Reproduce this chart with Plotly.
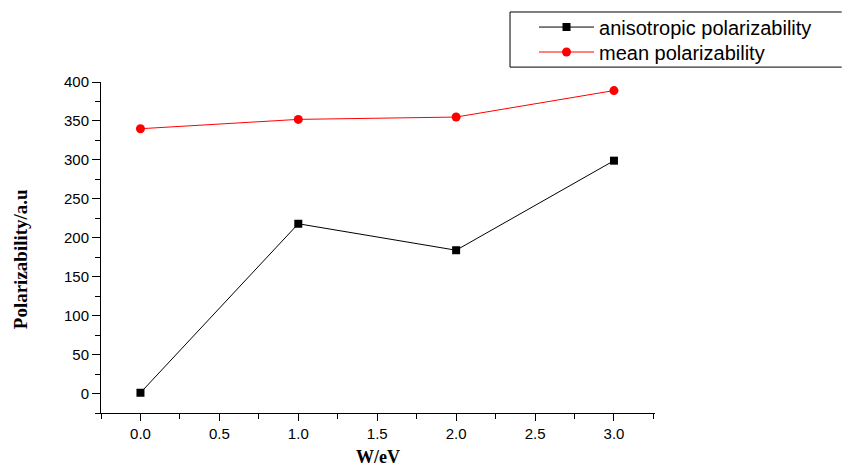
import plotly.graph_objects as go

w_ev = [0.0, 1.0, 2.0, 3.0]
aniso = [1, 218, 184, 299]
mean_pol = [340, 352, 355, 389]

fig = go.Figure()
fig.add_trace(go.Scatter(x=w_ev, y=aniso, mode="lines+markers", name="anisotropic polarizability",
                         line=dict(color="black", width=1),
                         marker=dict(symbol="square", size=8, color="black"), legend="legend"))
fig.add_trace(go.Scatter(x=w_ev, y=mean_pol, mode="lines+markers", name="mean polarizability",
                         line=dict(color="#ff0000", width=1),
                         marker=dict(symbol="circle", size=9, color="#ff0000"), legend="legend2"))

leg_common = dict(xanchor="left", yanchor="middle", borderwidth=0,
                  font=dict(family="Liberation Sans, Arial", size=20, color="black"),
                  itemwidth=55, bgcolor="rgba(0,0,0,0)")

box_x0, box_x1, box_y0, box_y1 = 0.7383, 1.337, 1.045, 1.2115
box_line = dict(color="black", width=1)

fig.update_layout(
    width=852, height=469,
    margin=dict(l=93, r=205, t=74, b=64, autoexpand=False),
    paper_bgcolor="white", plot_bgcolor="white",
    showlegend=True,
    legend=dict(x=0.7816, y=1.166, **leg_common),
    legend2=dict(x=0.7816, y=1.0906, **leg_common),
    font=dict(family="Liberation Sans, Arial", color="black"),
    shapes=[
        dict(type="line", xref="paper", yref="paper", x0=box_x0, x1=box_x1, y0=box_y1, y1=box_y1, line=box_line),
        dict(type="line", xref="paper", yref="paper", x0=box_x0, x1=box_x1, y0=box_y0, y1=box_y0, line=box_line),
        dict(type="line", xref="paper", yref="paper", x0=box_x0, x1=box_x0, y0=box_y0, y1=box_y1, line=box_line),
    ],
    annotations=[dict(text="<b>Polarizability/a.u</b>", xref="paper", yref="paper", x=-0.146, y=0.465,
                      textangle=-90, showarrow=False, xanchor="center", yanchor="middle",
                      font=dict(family="Liberation Serif, Times New Roman", size=19, color="black"))],
)
fig.update_xaxes(range=[-0.25, 3.26], tickmode="array", tickvals=[0, 0.5, 1, 1.5, 2, 2.5, 3],
                 ticktext=["0.0", "0.5", "1.0", "1.5", "2.0", "2.5", "3.0"],
                 ticks="outside", ticklen=7, tickwidth=1, tickcolor="black",
                 minor=dict(tickvals=[-0.25, 0.25, 0.75, 1.25, 1.75, 2.25, 2.75, 3.25], ticks="outside", ticklen=5, tickcolor="black"),
                 showline=True, linecolor="black", linewidth=1, showgrid=False, zeroline=False,
                 tickfont=dict(family="Liberation Sans, Arial", size=15),
                 title=dict(text="W/eV", font=dict(family="Liberation Serif, Times New Roman", size=18, weight="bold"), standoff=9))
fig.update_yaxes(range=[-25, 400], tickmode="array", tickvals=list(range(0, 401, 50)),
                 ticks="outside", ticklen=8, tickwidth=1, tickcolor="black",
                 minor=dict(tickvals=list(range(-25, 400, 50)), ticks="outside", ticklen=5, tickcolor="black"),
                 showline=True, linecolor="black", linewidth=1, showgrid=False, zeroline=False,
                 tickfont=dict(family="Liberation Sans, Arial", size=15))

fig.write_html("out.html")
